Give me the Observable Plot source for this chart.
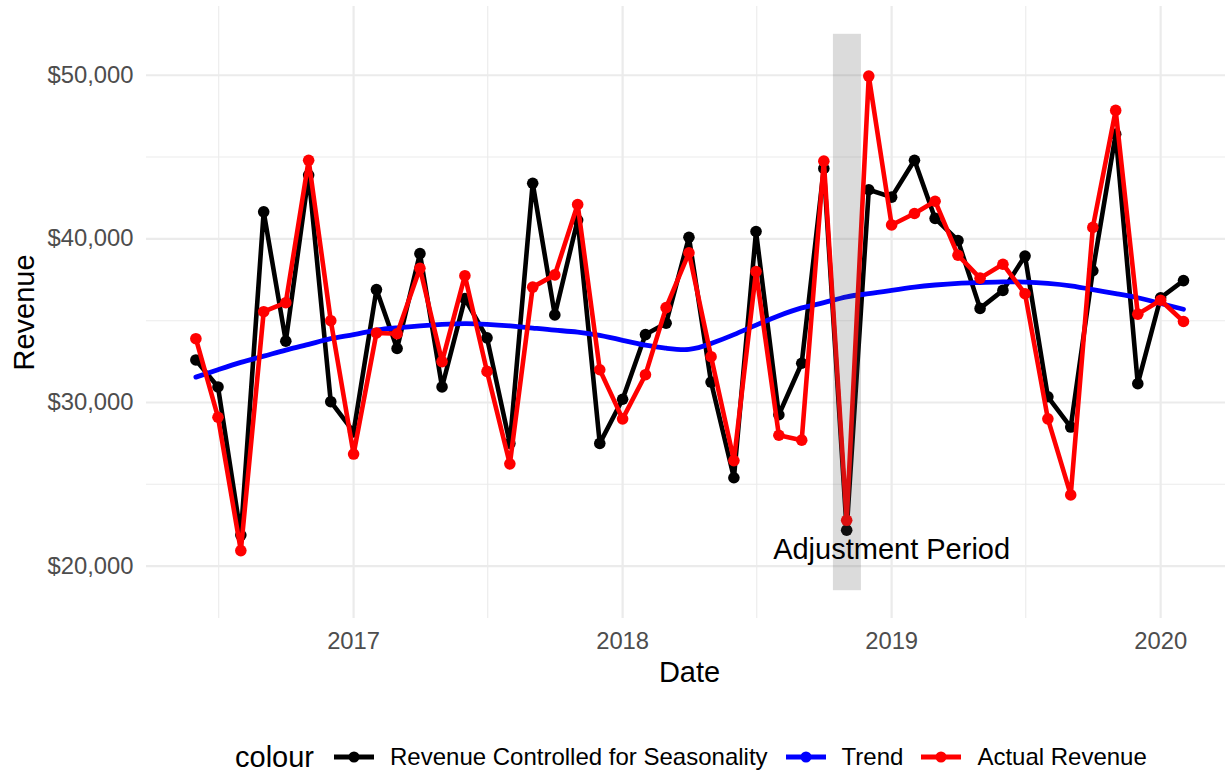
<!DOCTYPE html>
<html><head><meta charset="utf-8">
<script src="https://cdn.jsdelivr.net/npm/d3@7"></script>
<script src="https://cdn.jsdelivr.net/npm/@observablehq/plot@0.6"></script>
<style>
body{margin:0;background:#fff;font-family:"Liberation Sans",Arial,Helvetica,sans-serif;}
#legend{display:flex;align-items:center;height:34px;margin-top:40px;padding-left:235px;color:#000;white-space:nowrap;}
#legend .title{font-size:29px;margin-right:20px;}
#legend .item{display:flex;align-items:center;font-size:24px;margin-right:18px;}
#legend svg{margin-right:16px;}
</style></head><body>
<div id="chart"></div>
<div id="legend"></div>
<script>
const months = ["2016-06","2016-07","2016-08","2016-09","2016-10","2016-11","2016-12",
"2017-01","2017-02","2017-03","2017-04","2017-05","2017-06","2017-07","2017-08","2017-09","2017-10","2017-11","2017-12",
"2018-01","2018-02","2018-03","2018-04","2018-05","2018-06","2018-07","2018-08","2018-09","2018-10","2018-11","2018-12",
"2019-01","2019-02","2019-03","2019-04","2019-05","2019-06","2019-07","2019-08","2019-09","2019-10","2019-11","2019-12",
"2020-01","2020-02"];
const seasonality = [32600,30950,21900,41650,33750,43900,30050,
28200,36900,33300,39100,30950,36350,33950,27500,43400,35350,41150,27500,
30200,34150,34850,40100,31250,25400,40450,29250,32400,44300,22200,43000,
42550,44800,41250,39900,35750,36850,38950,30350,28500,38050,46400,31150,
36400,37450];
const trend = [31550,32000,32450,32830,33200,33550,33900,
34150,34420,34560,34680,34770,34820,34780,34680,34550,34420,34300,34100,
33800,33500,33320,33240,33600,34150,34730,35300,35780,36100,36460,36650,
36850,37050,37180,37280,37330,37370,37360,37280,37130,36900,36650,36400,
36050,35700];
const actual = [33900,29100,20950,35550,36100,44800,35000,
26850,34250,34200,38200,32500,37750,31900,26250,37050,37800,42100,32000,
29000,31700,35800,39150,32800,26450,38000,28000,27700,44750,22800,49950,
40850,41550,42300,39000,37600,38450,36650,29000,24350,40700,47850,35400,
36250,34950];
const yTicks = [20000,30000,40000,50000];
const yMinor = [25000,35000,45000];
const xTicks = ["2017-01-01","2018-01-01","2019-01-01","2020-01-01"];
const xMinor = ["2016-07-02","2017-07-02","2018-07-02","2019-07-02"];
const bandX = ["2018-10-14","2018-11-21"];
const bandY = [18500,52500];
const noteText = "Adjustment Period";
const noteX = "2019-01-01";
const noteY = 21000;
const seriesNames = ["Revenue Controlled for Seasonality","Trend","Actual Revenue"];
const seriesColors = ["#000000","#0000ff","#ff0000"];

const parse = d3.utcParse("%Y-%m-%d");
const rows = months.map((m,i)=>({date:parse(m+"-01"),seasonality:seasonality[i],trend:trend[i],actual:actual[i]}));
const font = '"Liberation Sans",Arial,Helvetica,sans-serif';

const chart = Plot.plot({
  width:1225, height:700,
  marginLeft:146, marginRight:0, marginTop:6, marginBottom:82,
  style:{fontFamily:font, background:"white", overflow:"visible"},
  x:{type:"utc", domain:[parse("2016-03-26"), parse("2020-03-29")]},
  y:{domain:[16800,54200]},
  marks:[
    Plot.ruleY(yMinor,{stroke:"#ebebeb",strokeWidth:1.1}),
    Plot.ruleX(xMinor.map(parse),{stroke:"#ebebeb",strokeWidth:1.1}),
    Plot.ruleY(yTicks,{stroke:"#ebebeb",strokeWidth:2.2}),
    Plot.ruleX(xTicks.map(parse),{stroke:"#ebebeb",strokeWidth:2.2}),
    Plot.axisY(yTicks,{tickSize:0,tickPadding:13,tickFormat:d3.format("$,"),fontSize:23.8,fill:"#4d4d4d",label:null}),
    Plot.axisX(xTicks.map(parse),{tickSize:0,tickPadding:14,tickFormat:d3.utcFormat("%Y"),fontSize:23.8,fill:"#4d4d4d",label:null}),
    Plot.line(rows,{x:"date",y:"seasonality",stroke:seriesColors[0],strokeWidth:4.6}),
    Plot.dot(rows,{x:"date",y:"seasonality",fill:seriesColors[0],r:5.8}),
    Plot.line(rows,{x:"date",y:"trend",stroke:seriesColors[1],strokeWidth:4.8,curve:"natural"}),
    Plot.line(rows,{x:"date",y:"actual",stroke:seriesColors[2],strokeWidth:4.6}),
    Plot.dot(rows,{x:"date",y:"actual",fill:seriesColors[2],r:5.8}),
    Plot.rect([0],{x1:()=>parse(bandX[0]),x2:()=>parse(bandX[1]),y1:()=>bandY[0],y2:()=>bandY[1],fill:"#4d4d4d",fillOpacity:0.2}),
    Plot.text([noteText],{x:()=>parse(noteX),y:()=>noteY,text:d=>d,fontSize:29,fill:"black"}),
    Plot.text(["Date"],{frameAnchor:"bottom",text:d=>d,dy:63.5,dx:3.5,fontSize:29,fill:"black"}),
    Plot.text(["Revenue"],{frameAnchor:"left",textAnchor:"middle",text:d=>d,dx:-122,rotate:-90,fontSize:29,fill:"black"})
  ]
});
document.getElementById("chart").appendChild(chart);

const legend = document.getElementById("legend");
const t = document.createElement("span");
t.className = "title"; t.textContent = "colour";
legend.appendChild(t);
seriesNames.forEach((name,i)=>{
  const item = document.createElement("span");
  item.className = "item";
  item.innerHTML = `<svg width="40" height="20"><line x1="0" y1="10" x2="40" y2="10" stroke="${seriesColors[i]}" stroke-width="5"/><circle cx="20" cy="10" r="5.5" fill="${seriesColors[i]}"/></svg>`;
  const s = document.createElement("span");
  s.textContent = name;
  item.appendChild(s);
  legend.appendChild(item);
});
</script>
</body></html>
